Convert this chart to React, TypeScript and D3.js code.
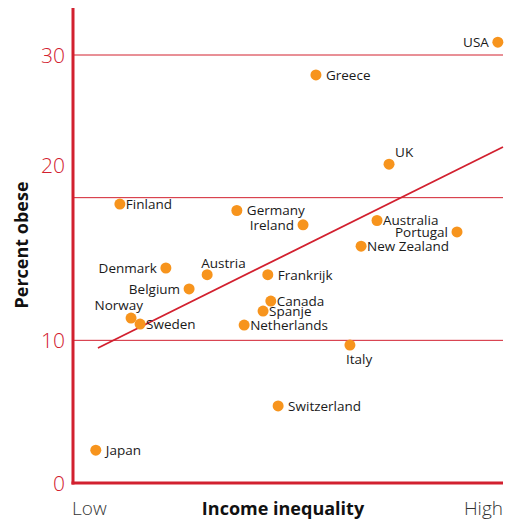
import React, { useEffect, useRef } from 'react'
import * as d3 from 'd3'

// income inequality index (0 = low, 100 = high) and percent obese
const countries = ['USA', 'Greece', 'UK', 'Finland', 'Germany', 'Ireland', 'Australia', 'Portugal', 'New Zealand', 'Denmark', 'Austria', 'Frankrijk', 'Belgium', 'Canada', 'Spanje', 'Norway', 'Sweden', 'Netherlands', 'Italy', 'Switzerland', 'Japan']
const inequality = [98.8, 56.5, 73.5, 10.9, 38.1, 53.5, 70.7, 89.3, 67.0, 21.6, 31.2, 45.3, 27.0, 46.0, 44.2, 13.5, 15.6, 39.8, 64.4, 47.7, 5.3]
const obese = [30.9, 28.6, 22.35, 19.55, 19.1, 18.1, 18.4, 17.6, 16.6, 15.07, 14.6, 14.6, 13.6, 12.75, 12.05, 11.56, 11.14, 11.07, 9.67, 5.4, 2.3]
const labelSide = ['left', 'right', 'aboveRight', 'rightTight', 'right', 'left', 'rightTight', 'left', 'rightTight', 'left', 'above', 'right', 'left', 'rightTight', 'rightTight', 'aboveLeft', 'rightTight', 'rightTight', 'below', 'right', 'right']

const yTicks = [0, 10, 20, 30]
const trendX = [5.8, 100]
const trendY = [9.46, 23.55]

const RED = '#d2202f'
const ORANGE = '#f7941d'
const FONT = '"Open Sans", sans-serif'

function Chart() {
  const ref = useRef<SVGSVGElement>(null)

  useEffect(() => {
    document.body.style.margin = '0'
    document.body.style.overflow = 'hidden'

    const svg = d3.select(ref.current)
    svg.selectAll('*').remove()

    const left = 73, right = 503, top = 8, bottom = 483

    const x = d3.scaleLinear().domain([0, 100]).range([left, right])
    const y = d3.scaleLinear().domain([0, 30]).range([bottom, 55])

    // grid lines
    svg.append('g')
      .selectAll('line')
      .data(yTicks.filter(d => d > 0))
      .join('line')
      .attr('x1', left)
      .attr('x2', right)
      .attr('y1', d => y(d))
      .attr('y2', d => y(d))
      .attr('stroke', RED)
      .attr('stroke-width', 1)

    // tick labels (the 20 sits above its line in the original)
    svg.append('g')
      .selectAll('text')
      .data(yTicks)
      .join('text')
      .attr('x', 65)
      .attr('y', d => d === 20 ? y(d) - 32 : y(d))
      .attr('dy', '0.36em')
      .attr('text-anchor', 'end')
      .attr('fill', RED)
      .style('font-family', FONT)
      .style('font-size', '21px')
      .style('font-weight', 300)
      .text(d => d)

    // axes
    svg.append('line')
      .attr('x1', left).attr('x2', left)
      .attr('y1', top).attr('y2', bottom + 1.5)
      .attr('stroke', RED).attr('stroke-width', 3)
    svg.append('line')
      .attr('x1', left - 1.5).attr('x2', right)
      .attr('y1', bottom).attr('y2', bottom)
      .attr('stroke', RED).attr('stroke-width', 3)

    // trend line
    svg.append('line')
      .attr('x1', x(trendX[0])).attr('y1', y(trendY[0]))
      .attr('x2', x(trendX[1])).attr('y2', y(trendY[1]))
      .attr('stroke', RED).attr('stroke-width', 1.8)

    const pts = countries.map((c, i) => ({ c, x: inequality[i], y: obese[i], side: labelSide[i] }))

    svg.append('g')
      .selectAll('circle')
      .data(pts)
      .join('circle')
      .attr('cx', d => x(d.x))
      .attr('cy', d => y(d.y))
      .attr('r', 5.5)
      .attr('fill', ORANGE)

    const off: Record<string, [number, number, string]> = {
      left: [-9, 0, 'end'],
      right: [10, 0, 'start'],
      rightTight: [6, 0, 'start'],
      above: [-6, -12, 'start'],
      aboveRight: [6, -12, 'start'],
      aboveLeft: [12, -13, 'end'],
      below: [-4, 14, 'start'],
    }

    svg.append('g')
      .selectAll('text')
      .data(pts)
      .join('text')
      .attr('x', d => x(d.x) + off[d.side][0])
      .attr('y', d => y(d.y) + off[d.side][1])
      .attr('dy', '0.36em')
      .attr('text-anchor', d => off[d.side][2])
      .attr('fill', '#1a1a1a')
      .style('font-family', FONT)
      .style('font-size', '13.5px')
      .text(d => d.c)

    // axis titles
    svg.append('text')
      .attr('transform', `translate(28,${245}) rotate(-90)`)
      .attr('text-anchor', 'middle')
      .attr('fill', '#111')
      .style('font-family', FONT)
      .style('font-size', '18px')
      .style('font-weight', 'bold')
      .text('Percent obese')

    svg.append('text')
      .attr('x', 283).attr('y', 515)
      .attr('text-anchor', 'middle')
      .attr('fill', '#111')
      .style('font-family', FONT)
      .style('font-size', '18px')
      .style('font-weight', 'bold')
      .text('Income inequality')

    svg.append('text')
      .attr('x', left - 1).attr('y', 515)
      .attr('fill', '#333')
      .style('font-family', FONT)
      .style('font-size', '19px')
      .style('font-weight', 300)
      .text('Low')

    svg.append('text')
      .attr('x', right).attr('y', 515)
      .attr('text-anchor', 'end')
      .attr('fill', '#333')
      .style('font-family', FONT)
      .style('font-size', '19px')
      .style('font-weight', 300)
      .text('High')
  }, [])

  return <svg ref={ref} width={513} height={520} style={{ display: 'block', position: 'absolute', left: 0, top: 0 }} />
}

export default function App() {
  return <Chart />
}
